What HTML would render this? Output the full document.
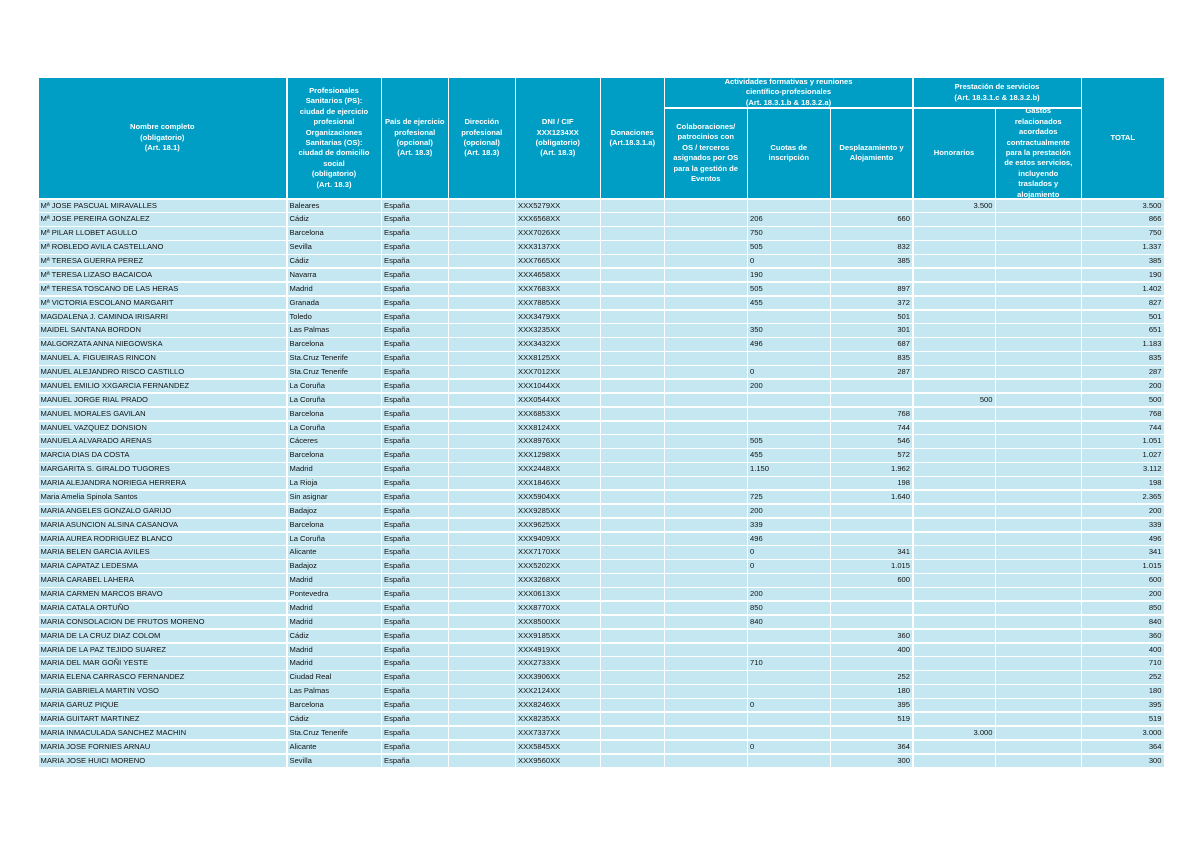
<!DOCTYPE html>
<html><head><meta charset="utf-8">
<style>
html,body{margin:0;padding:0;background:#fff;}
body{width:1200px;height:849px;position:relative;overflow:hidden;font-family:"Liberation Sans",Arial,sans-serif;}
#tbl{position:absolute;left:0;top:0;}
.c{position:absolute;box-sizing:border-box;font-size:7.6px;color:#111;white-space:nowrap;overflow:hidden;line-height:12.4px;padding:0 2px;}
.b{background:#c5e7f2;}
.h{background:#009ec4;color:#fff;font-weight:bold;font-size:7.6px;line-height:10.4px;display:flex;align-items:center;justify-content:center;text-align:center;white-space:nowrap;padding:0 1px;}
.r{text-align:right;}
</style></head>
<body>
<div id="tbl"></div>
<script>
// Column boundaries (layout)
var colX=[38.5,287.5,382,449,516,601,665,748,831,913.5,996,1082,1165];
var headTop=78, headMid=108.5, headBottom=199.5, rowH=13.875;

// Data
var names=["Mª JOSE PASCUAL MIRAVALLES","Mª JOSE PEREIRA GONZALEZ","Mª PILAR LLOBET AGULLO","Mª ROBLEDO AVILA CASTELLANO","Mª TERESA GUERRA PEREZ","Mª TERESA LIZASO BACAICOA","Mª TERESA TOSCANO DE LAS HERAS","Mª VICTORIA ESCOLANO MARGARIT","MAGDALENA J. CAMINOA IRISARRI","MAIDEL SANTANA BORDON","MALGORZATA ANNA NIEGOWSKA","MANUEL A. FIGUEIRAS RINCON","MANUEL ALEJANDRO RISCO CASTILLO","MANUEL EMILIO XXGARCIA FERNANDEZ","MANUEL JORGE RIAL PRADO","MANUEL MORALES GAVILAN","MANUEL VAZQUEZ DONSION","MANUELA ALVARADO ARENAS","MARCIA DIAS DA COSTA","MARGARITA S. GIRALDO TUGORES","MARIA ALEJANDRA NORIEGA HERRERA","Maria Amelia Spinola Santos","MARIA ANGELES GONZALO GARIJO","MARIA ASUNCION ALSINA CASANOVA","MARIA AUREA RODRIGUEZ BLANCO","MARIA BELEN GARCIA AVILES","MARIA CAPATAZ LEDESMA","MARIA CARABEL LAHERA","MARIA CARMEN MARCOS BRAVO","MARIA CATALA ORTUÑO","MARIA CONSOLACION DE FRUTOS MORENO","MARIA DE LA CRUZ DIAZ COLOM","MARIA DE LA PAZ TEJIDO SUAREZ","MARIA DEL MAR GOÑI YESTE","MARIA ELENA CARRASCO FERNANDEZ","MARIA GABRIELA MARTIN VOSO","MARIA GARUZ PIQUE","MARIA GUITART MARTINEZ","MARIA INMACULADA SANCHEZ MACHIN","MARIA JOSE FORNIES ARNAU","MARIA JOSE HUICI MORENO"];
var cities=["Baleares","Cádiz","Barcelona","Sevilla","Cádiz","Navarra","Madrid","Granada","Toledo","Las Palmas","Barcelona","Sta.Cruz Tenerife","Sta.Cruz Tenerife","La Coruña","La Coruña","Barcelona","La Coruña","Cáceres","Barcelona","Madrid","La Rioja","Sin asignar","Badajoz","Barcelona","La Coruña","Alicante","Badajoz","Madrid","Pontevedra","Madrid","Madrid","Cádiz","Madrid","Madrid","Ciudad Real","Las Palmas","Barcelona","Cádiz","Sta.Cruz Tenerife","Alicante","Sevilla"];
var dnis=["XXX5279XX","XXX6568XX","XXX7026XX","XXX3137XX","XXX7665XX","XXX4658XX","XXX7683XX","XXX7885XX","XXX3479XX","XXX3235XX","XXX3432XX","XXX8125XX","XXX7012XX","XXX1044XX","XXX0544XX","XXX6853XX","XXX8124XX","XXX8976XX","XXX1298XX","XXX2448XX","XXX1846XX","XXX5904XX","XXX9285XX","XXX9625XX","XXX9409XX","XXX7170XX","XXX5202XX","XXX3268XX","XXX0613XX","XXX8770XX","XXX8500XX","XXX9185XX","XXX4919XX","XXX2733XX","XXX3906XX","XXX2124XX","XXX8246XX","XXX8235XX","XXX7337XX","XXX5845XX","XXX9560XX"];
var cuotas=["","206","750","505","0","190","505","455","","350","496","","0","200","","","","505","455","1.150","","725","200","339","496","0","0","","200","850","840","","","710","","","0","","","0",""];
var desplaz=["","660","","832","385","","897","372","501","301","687","835","287","","","768","744","546","572","1.962","198","1.640","","","","341","1.015","600","","","","360","400","","252","180","395","519","","364","300"];
var honorarios=["3.500","","","","","","","","","","","","","","500","","","","","","","","","","","","","","","","","","","","","","","","3.000","",""];
var totals=["3.500","866","750","1.337","385","190","1.402","827","501","651","1.183","835","287","200","500","768","744","1.051","1.027","3.112","198","2.365","200","339","496","341","1.015","600","200","850","840","360","400","710","252","180","395","519","3.000","364","300"];

var tbl=document.getElementById('tbl');
var G=1.5;
function cell(x0,x1,y0,y1,cls,txt,name){
  var d=document.createElement('div');
  d.className='c '+cls;
  d.style.left=x0+'px';d.style.top=y0+'px';
  d.style.width=(x1-x0-G)+'px';d.style.height=(y1-y0-G)+'px';
  if(cls.indexOf('h')<0) d.style.lineHeight=(y1-y0-G)+'px';
  d.innerHTML=txt;
  
  
  tbl.appendChild(d);
  return d;
}
// Headers
var H=[
 [0,1,"Nombre completo<br>(obligatorio)<br>(Art. 18.1)","header-nombre"],
 [1,2,"Profesionales<br>Sanitarios (PS):<br>ciudad de ejercicio<br>profesional<br>Organizaciones<br>Sanitarias (OS):<br>ciudad de domicilio<br>social<br>(obligatorio)<br>(Art. 18.3)","header-ciudad"],
 [2,3,"País de ejercicio<br>profesional<br>(opcional)<br>(Art. 18.3)","header-pais"],
 [3,4,"Dirección<br>profesional<br>(opcional)<br>(Art. 18.3)","header-direccion"],
 [4,5,"DNI / CIF<br>XXX1234XX<br>(obligatorio)<br>(Art. 18.3)","header-dni"],
 [5,6,"Donaciones<br>(Art.18.3.1.a)","header-donaciones"],
 [11,12,"TOTAL","header-total"]
];
H.forEach(function(h){cell(colX[h[0]],colX[h[1]],headTop,headBottom,'h',h[2],h[3]);});
cell(colX[6],colX[9],headTop,headMid,'h',"Actividades formativas y reuniones<br>científico-profesionales<br>(Art. 18.3.1.b &amp; 18.3.2.a)","header-actividades-group");
cell(colX[9],colX[11],headTop,headMid,'h',"Prestación de servicios<br>(Art. 18.3.1.c &amp; 18.3.2.b)","header-prestacion-group");
var S=[
 [6,"Colaboraciones/<br>patrocinios con<br>OS / terceros<br>asignados por OS<br>para la gestión de<br>Eventos","header-colaboraciones"],
 [7,"Cuotas de<br>inscripción","header-cuotas"],
 [8,"Desplazamiento y<br>Alojamiento","header-desplazamiento"],
 [9,"Honorarios","header-honorarios"],
 [10,"Gastos<br>relacionados<br>acordados<br>contractualmente<br>para la prestación<br>de estos servicios,<br>incluyendo<br>traslados y<br>alojamiento","header-gastos"]
];
S.forEach(function(s){cell(colX[s[0]],colX[s[0]+1],headMid,headBottom,'h',s[1],s[2]);});

// Rows
for(var i=0;i<names.length;i++){
  var y0=headBottom+i*rowH, y1=y0+rowH;
  var vals=[names[i],cities[i],"España","",dnis[i],"","",cuotas[i],desplaz[i],honorarios[i],"",totals[i]];
  var nm=["name","city","country","address","dni","donaciones","colaboraciones","cuotas","desplazamiento","honorarios","gastos","total"];
  for(var c=0;c<12;c++){
    var right=(c==8||c==9||c==10||c==11);
    cell(colX[c],colX[c+1],y0,y1,'b'+(right?' r':''),vals[c],'row-'+(i+1)+'-'+nm[c]);
  }
}
</script>
</body></html>
